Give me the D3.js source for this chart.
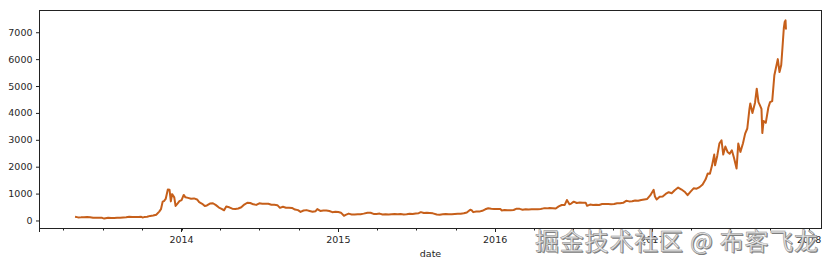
<!DOCTYPE html>
<html>
<head>
  <meta charset="utf-8">
  <script src="https://d3js.org/d3.v7.min.js"></script>
  <style>
    body { margin: 0; background: #fff; }
    svg { display: block; font-family: "DejaVu Sans", sans-serif; }
    .tick_label { fill: #262626; font-size: 9.5px; }
    .watermark { font-family: "Noto Sans CJK SC", sans-serif; font-size: 24px; }
  </style>
</head>
<body>
  <svg></svg>
  <script>
    // bitcoin closing price (approx. weekly, denser around spikes)
    const dates = [
      "2013-04-28","2013-05-05","2013-05-12","2013-05-19","2013-05-26","2013-06-02","2013-06-09","2013-06-16",
      "2013-06-23","2013-06-30","2013-07-05","2013-07-14","2013-07-21","2013-07-28","2013-08-04","2013-08-11",
      "2013-08-18","2013-08-25","2013-09-01","2013-09-08","2013-09-15","2013-09-22","2013-09-29","2013-10-02",
      "2013-10-06","2013-10-13","2013-10-20","2013-10-27","2013-11-03","2013-11-10","2013-11-14","2013-11-18",
      "2013-11-21","2013-11-25","2013-11-30","2013-12-04","2013-12-07","2013-12-10","2013-12-15","2013-12-18",
      "2013-12-22","2013-12-27","2014-01-01","2014-01-06","2014-01-10","2014-01-16","2014-01-23","2014-01-30",
      "2014-02-06","2014-02-11","2014-02-18","2014-02-24","2014-03-01","2014-03-08","2014-03-15","2014-03-22",
      "2014-03-29","2014-04-03","2014-04-10","2014-04-15","2014-04-22","2014-04-29","2014-05-06","2014-05-13",
      "2014-05-20","2014-05-27","2014-06-03","2014-06-10","2014-06-17","2014-06-24","2014-07-01","2014-07-08",
      "2014-07-15","2014-07-22","2014-07-29","2014-08-05","2014-08-12","2014-08-18","2014-08-25","2014-09-01",
      "2014-09-08","2014-09-15","2014-09-22","2014-09-29","2014-10-05","2014-10-12","2014-10-19","2014-10-26",
      "2014-11-02","2014-11-09","2014-11-13","2014-11-20","2014-11-27","2014-12-04","2014-12-11","2014-12-18",
      "2014-12-25","2015-01-01","2015-01-07","2015-01-14","2015-01-18","2015-01-25","2015-02-01","2015-02-08",
      "2015-02-15","2015-02-22","2015-03-01","2015-03-10","2015-03-17","2015-03-24","2015-03-31","2015-04-07",
      "2015-04-14","2015-04-21","2015-04-28","2015-05-05","2015-05-12","2015-05-19","2015-05-26","2015-06-02",
      "2015-06-09","2015-06-16","2015-06-23","2015-06-30","2015-07-07","2015-07-12","2015-07-19","2015-07-26",
      "2015-08-02","2015-08-09","2015-08-18","2015-08-25","2015-09-01","2015-09-08","2015-09-15","2015-09-22",
      "2015-09-29","2015-10-06","2015-10-13","2015-10-20","2015-10-27","2015-11-04","2015-11-08","2015-11-11",
      "2015-11-18","2015-11-25","2015-12-02","2015-12-09","2015-12-16","2015-12-23","2015-12-30","2016-01-06",
      "2016-01-13","2016-01-16","2016-01-23","2016-01-30","2016-02-06","2016-02-13","2016-02-20","2016-02-27",
      "2016-03-05","2016-03-12","2016-03-19","2016-03-26","2016-04-02","2016-04-09","2016-04-16","2016-04-23",
      "2016-04-30","2016-05-07","2016-05-14","2016-05-21","2016-05-28","2016-06-04","2016-06-11","2016-06-16",
      "2016-06-22","2016-06-26","2016-07-02","2016-07-09","2016-07-16","2016-07-23","2016-07-30","2016-08-02",
      "2016-08-09","2016-08-16","2016-08-23","2016-08-30","2016-09-06","2016-09-13","2016-09-20","2016-09-27",
      "2016-10-04","2016-10-11","2016-10-18","2016-10-25","2016-11-01","2016-11-08","2016-11-15","2016-11-22",
      "2016-11-29","2016-12-06","2016-12-13","2016-12-20","2016-12-27","2017-01-04","2017-01-07","2017-01-11",
      "2017-01-18","2017-01-25","2017-02-01","2017-02-08","2017-02-15","2017-02-22","2017-03-02","2017-03-10",
      "2017-03-17","2017-03-24","2017-03-31","2017-04-07","2017-04-14","2017-04-21","2017-04-28","2017-05-05",
      "2017-05-10","2017-05-15","2017-05-20","2017-05-25","2017-05-27","2017-06-01","2017-06-06","2017-06-11",
      "2017-06-15","2017-06-20","2017-06-25","2017-06-30","2017-07-05","2017-07-10","2017-07-16","2017-07-20",
      "2017-07-25","2017-07-31","2017-08-05","2017-08-10","2017-08-15","2017-08-17","2017-08-22","2017-08-28",
      "2017-09-01","2017-09-05","2017-09-08","2017-09-12","2017-09-14","2017-09-17","2017-09-22","2017-09-28",
      "2017-10-02","2017-10-07","2017-10-12","2017-10-16","2017-10-20","2017-10-24","2017-10-28","2017-10-31",
      "2017-11-03","2017-11-05","2017-11-07","2017-11-08"
    ]

    const prices = [
      135,115,117,122,133,122,100,100,
      105,97,70,98,90,95,105,105,
      112,120,136,125,133,125,135,112,
      125,137,170,185,215,330,420,700,
      720,800,1150,1140,710,980,860,540,
      620,720,760,950,860,840,810,820,
      780,680,620,540,560,630,640,570,
      480,440,380,520,490,440,430,445,
      490,590,660,650,600,580,640,625,
      620,620,585,585,570,470,510,475,
      475,465,405,385,320,370,385,355,
      325,345,425,355,370,370,350,310,
      320,315,290,175,210,255,225,225,
      235,235,255,290,285,245,245,255,
      220,235,225,235,240,235,237,225,
      229,250,243,263,270,310,275,290,
      280,265,225,210,230,240,230,230,
      237,246,250,268,295,400,370,310,
      335,330,360,415,455,440,430,430,
      430,375,390,378,376,390,438,432,
      400,418,410,417,420,420,430,450,
      450,460,455,443,525,575,580,760,
      600,630,700,650,665,655,655,545,
      590,575,585,575,610,608,610,605,
      610,640,637,655,730,710,712,740,
      735,760,780,800,930,1140,890,780,
      880,890,985,1050,1010,1125,1225,1150,
      1070,940,1075,1195,1180,1240,1340,1530,
      1750,1740,2050,2450,2050,2400,2860,2980,
      2450,2750,2550,2480,2610,2330,1930,2860,
      2550,2870,3230,3420,4150,4350,4000,4380,
      4900,4400,4300,4150,3250,3700,3630,4200,
      4400,4440,5400,5700,6000,5520,5780,6450,
      7150,7380,7440,7100
    ]

    const yTicks = [0, 1000, 2000, 3000, 4000, 5000, 6000, 7000]
    const yearTicks = ["2014", "2015", "2016", "2017", "2018"]

    const W = 831, H = 266
    const mLeft = 39.5, mRight = 821.5, mTop = 10.5, mBottom = 228.5

    const parse = d3.timeParse("%Y-%m-%d")
    const data = dates.map((d, i) => ({ date: parse(d), value: prices[i] }))

    // matplotlib-like 5% margins
    const xExt = d3.extent(data, d => +d.date)
    const xPad = (xExt[1] - xExt[0]) * 0.05
    const yExt = d3.extent(data, d => d.value)
    const yPad = (yExt[1] - yExt[0]) * 0.05

    const xScale = d3.scaleTime()
      .domain([new Date(xExt[0] - xPad), new Date(xExt[1] + xPad)])
      .range([mLeft, mRight])

    const yScale = d3.scaleLinear()
      .domain([yExt[0] - yPad, yExt[1] + yPad])
      .range([mBottom, mTop])

    const svg = d3.select("svg")
      .attr("width", W)
      .attr("height", H)

    // line
    const line = d3.line()
      .x(d => xScale(d.date))
      .y(d => yScale(d.value))

    svg.append("path")
      .datum(data)
      .attr("fill", "none")
      .attr("stroke", "#c65f1a")
      .attr("stroke-width", 2)
      .attr("stroke-linejoin", "round")
      .attr("d", line)

    // frame
    svg.append("rect")
      .attr("x", mLeft)
      .attr("y", mTop)
      .attr("width", mRight - mLeft)
      .attr("height", mBottom - mTop)
      .attr("fill", "none")
      .attr("stroke", "#222")
      .attr("stroke-width", 1)

    // y axis
    const yAxis = d3.axisLeft(yScale)
      .tickValues(yTicks)
      .tickSize(3.5)
      .tickPadding(3.5)
      .tickFormat(d3.format("d"))

    const gy = svg.append("g")
      .attr("transform", `translate(${mLeft},0)`)
      .call(yAxis)
    gy.attr("font-family", null).attr("font-size", null)
    gy.select(".domain").remove()
    gy.selectAll("line").attr("stroke", "#222")
    gy.selectAll("text").attr("class", "tick_label").attr("fill", null)

    // x axis: minor quarterly ticks
    const minor = d3.timeMonth.every(3).range(xScale.domain()[0], xScale.domain()[1])
    const gx = svg.append("g")
      .attr("transform", `translate(0,${mBottom})`)

    gx.selectAll(".minor")
      .data(minor)
      .enter()
      .append("line")
      .attr("class", "minor")
      .attr("x1", d => Math.round(xScale(d)) + 0.5)
      .attr("x2", d => Math.round(xScale(d)) + 0.5)
      .attr("y1", 0)
      .attr("y2", 2)
      .attr("stroke", "#222")

    // major: yearly plus the edge tick pandas puts at the start
    const majors = [xScale.domain()[0]].concat(yearTicks.map(y => parse(y + "-01-01")))
    gx.selectAll(".major")
      .data(majors)
      .enter()
      .append("line")
      .attr("class", "major")
      .attr("x1", d => Math.round(xScale(d) - 0.5) + 0.5)
      .attr("x2", d => Math.round(xScale(d) - 0.5) + 0.5)
      .attr("y1", 0)
      .attr("y2", 3.5)
      .attr("stroke", "#222")

    gx.selectAll(".year_label")
      .data(yearTicks)
      .enter()
      .append("text")
      .attr("class", "tick_label")
      .attr("x", d => xScale(parse(d + "-01-01")))
      .attr("y", 14)
      .attr("text-anchor", "middle")
      .text(d => d)

    svg.append("text")
      .attr("class", "tick_label")
      .attr("x", (mLeft + mRight) / 2)
      .attr("y", 257)
      .attr("text-anchor", "middle")
      .text("date")

    // watermark
    const wm = "掘金技术社区 @ 布客飞龙"
    svg.append("text")
      .attr("class", "watermark")
      .attr("x", 536)
      .attr("y", 251)
      .attr("textLength", 283)
      .attr("lengthAdjust", "spacing")
      .attr("fill", "#7a7a7a")
      .text(wm)
    svg.append("text")
      .attr("class", "watermark")
      .attr("x", 535)
      .attr("y", 250)
      .attr("textLength", 283)
      .attr("lengthAdjust", "spacing")
      .attr("fill", "#e6e6e6")
      .attr("stroke", "#8a8a8a")
      .attr("stroke-width", 0.5)
      .text(wm)
  </script>
</body>
</html>
